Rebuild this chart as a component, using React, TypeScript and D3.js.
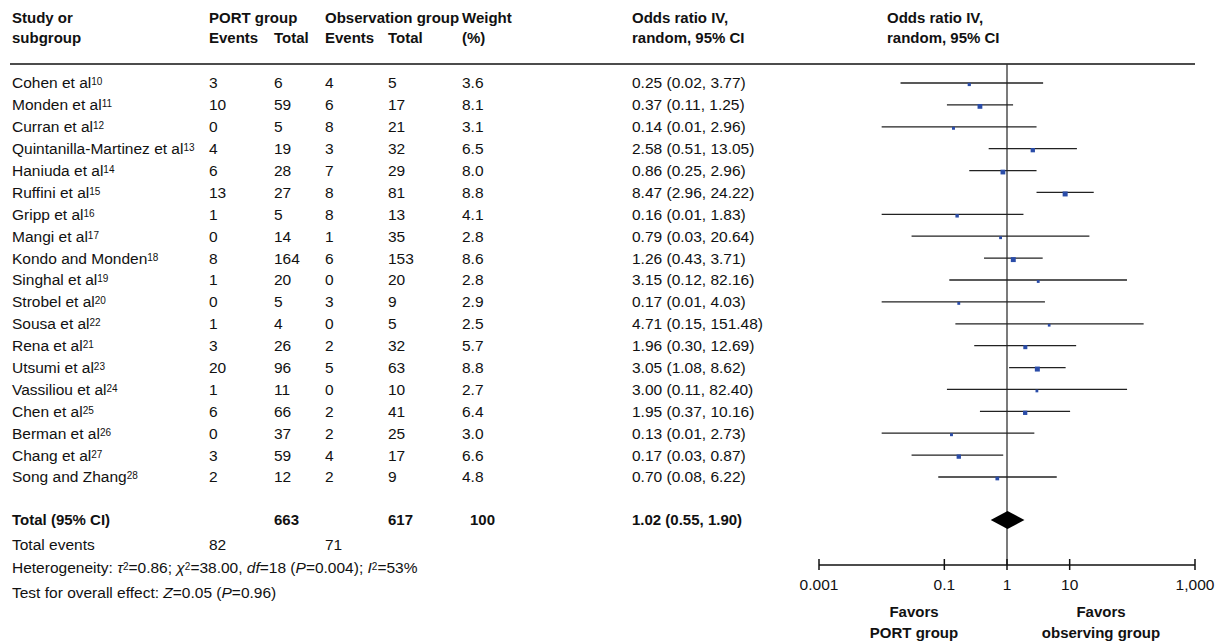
import React from 'react';
import * as d3 from 'd3';

// study rows
const studies = [
  'Cohen et al', 'Monden et al', 'Curran et al', 'Quintanilla-Martinez et al', 'Haniuda et al',
  'Ruffini et al', 'Gripp et al', 'Mangi et al', 'Kondo and Monden', 'Singhal et al',
  'Strobel et al', 'Sousa et al', 'Rena et al', 'Utsumi et al', 'Vassiliou et al',
  'Chen et al', 'Berman et al', 'Chang et al', 'Song and Zhang',
];
const refs = ['10', '11', '12', '13', '14', '15', '16', '17', '18', '19', '20', '22', '21', '23', '24', '25', '26', '27', '28'];
const portEvents = [3, 10, 0, 4, 6, 13, 1, 0, 8, 1, 0, 1, 3, 20, 1, 6, 0, 3, 2];
const portTotal = [6, 59, 5, 19, 28, 27, 5, 14, 164, 20, 5, 4, 26, 96, 11, 66, 37, 59, 12];
const obsEvents = [4, 6, 8, 3, 7, 8, 8, 1, 6, 0, 3, 0, 2, 5, 0, 2, 2, 4, 2];
const obsTotal = [5, 17, 21, 32, 29, 81, 13, 35, 153, 20, 9, 5, 32, 63, 10, 41, 25, 17, 9];
const weights = ['3.6', '8.1', '3.1', '6.5', '8.0', '8.8', '4.1', '2.8', '8.6', '2.8', '2.9', '2.5', '5.7', '8.8', '2.7', '6.4', '3.0', '6.6', '4.8'];
const oddsRatio = [0.25, 0.37, 0.14, 2.58, 0.86, 8.47, 0.16, 0.79, 1.26, 3.15, 0.17, 4.71, 1.96, 3.05, 3.00, 1.95, 0.13, 0.17, 0.70];
const ciLow = [0.02, 0.11, 0.01, 0.51, 0.25, 2.96, 0.01, 0.03, 0.43, 0.12, 0.01, 0.15, 0.30, 1.08, 0.11, 0.37, 0.01, 0.03, 0.08];
const ciHigh = [3.77, 1.25, 2.96, 13.05, 2.96, 24.22, 1.83, 20.64, 3.71, 82.16, 4.03, 151.48, 12.69, 8.62, 82.40, 10.16, 2.73, 0.87, 6.22];

const pooled = { or: 1.02, lo: 0.55, hi: 1.9 };
const axisTicks = [0.001, 0.1, 1, 10, 1000];
const tickLabels = ['0.001', '0.1', '1', '10', '1,000'];

const W = 1215;
const H = 643;
const FONT = '"Liberation Sans", Arial, sans-serif';

const fmt = (v: number) => v.toFixed(2);

const App = () => {
  const x = d3.scaleLog().domain([0.001, 1000]).range([819, 1195]);
  const y = d3.scalePoint<string>().domain(studies).range([83, 477]);
  const size = d3.scaleSqrt().domain([0, 8.8]).range([0, 5]);

  const axisY = 565;
  const headerLine = 64;
  const totalY = 520;

  const col = { study: 12, pe: 209, pt: 274, oe: 325, ot: 388, w: 462, or: 632 };

  const txt = (props: any, children: any, bold = false) => (
    <text dy="0.35em" fontFamily={FONT} fontSize={bold ? 15 : 15.5} fontWeight={bold ? 'bold' : 'normal'} fill="#111" {...props}>
      {children}
    </text>
  );

  const sup = (s: string) => (
    <tspan fontSize={10} baselineShift="35%">{s}</tspan>
  );

  const diamond = [
    [x(pooled.lo), totalY],
    [x(pooled.or), totalY - 9],
    [x(pooled.hi), totalY],
    [x(pooled.or), totalY + 9],
  ];

  return (
    <svg width={W} height={H} style={{ position: 'absolute', left: 0, top: 0, background: '#fff' }}>
      <rect width={W} height={H} fill="#fff" />

      {/* header */}
      {txt({ x: col.study, y: 18 }, 'Study or', true)}
      {txt({ x: col.study, y: 38 }, 'subgroup', true)}
      {txt({ x: col.pe, y: 18 }, 'PORT group', true)}
      {txt({ x: col.pe, y: 38 }, 'Events', true)}
      {txt({ x: col.pt, y: 38 }, 'Total', true)}
      {txt({ x: col.oe, y: 18 }, 'Observation group', true)}
      {txt({ x: col.oe, y: 38 }, 'Events', true)}
      {txt({ x: col.ot, y: 38 }, 'Total', true)}
      {txt({ x: col.w, y: 18 }, 'Weight', true)}
      {txt({ x: col.w, y: 38 }, '(%)', true)}
      {txt({ x: col.or, y: 18 }, 'Odds ratio IV,', true)}
      {txt({ x: col.or, y: 38 }, 'random, 95% CI', true)}
      {txt({ x: 887, y: 18 }, 'Odds ratio IV,', true)}
      {txt({ x: 887, y: 38 }, 'random, 95% CI', true)}
      <line x1={10} x2={1195} y1={headerLine} y2={headerLine} stroke="#111" strokeWidth={1.5} />

      {/* reference line */}
      <line x1={x(1)} x2={x(1)} y1={headerLine} y2={axisY} stroke="#333" strokeWidth={1.3} />

      {/* study rows */}
      {studies.map((s, i) => {
        const yy = y(s) as number;
        const sz = size(+weights[i]);
        return (
          <g key={s}>
            {txt({ x: col.study, y: yy }, <>{s}{sup(refs[i])}</>)}
            {txt({ x: col.pe, y: yy }, portEvents[i])}
            {txt({ x: col.pt, y: yy }, portTotal[i])}
            {txt({ x: col.oe, y: yy }, obsEvents[i])}
            {txt({ x: col.ot, y: yy }, obsTotal[i])}
            {txt({ x: col.w, y: yy }, weights[i])}
            {txt({ x: col.or, y: yy }, `${fmt(oddsRatio[i])} (${fmt(ciLow[i])}, ${fmt(ciHigh[i])})`)}
            <line x1={x(ciLow[i])} x2={x(ciHigh[i])} y1={yy} y2={yy} stroke="#222" strokeWidth={1.3} />
            <rect x={x(oddsRatio[i]) - sz / 2} y={yy + 1.5 - sz / 2} width={sz} height={sz} fill="#2a4ca8" />
          </g>
        );
      })}

      {/* totals */}
      {txt({ x: col.study, y: totalY }, 'Total (95% CI)', true)}
      {txt({ x: col.pt, y: totalY }, d3.sum(portTotal), true)}
      {txt({ x: col.ot, y: totalY }, d3.sum(obsTotal), true)}
      {txt({ x: 470, y: totalY }, '100', true)}
      {txt({ x: col.or, y: totalY }, `${fmt(pooled.or)} (${fmt(pooled.lo)}, ${fmt(pooled.hi)})`, true)}
      <polygon points={diamond.map(p => p.join(',')).join(' ')} fill="#000" />

      {txt({ x: col.study, y: 545 }, 'Total events')}
      {txt({ x: col.pe, y: 545 }, d3.sum(portEvents))}
      {txt({ x: col.oe, y: 545 }, d3.sum(obsEvents))}
      {txt({ x: col.study, y: 568 }, <>
        Heterogeneity: <tspan fontStyle="italic">τ</tspan>{sup('2')}=0.86; <tspan fontStyle="italic">χ</tspan>{sup('2')}=38.00, <tspan fontStyle="italic">df</tspan>=18 (<tspan fontStyle="italic">P</tspan>=0.004); <tspan fontStyle="italic">I</tspan>{sup('2')}=53%
      </>)}
      {txt({ x: col.study, y: 593 }, <>
        Test for overall effect: <tspan fontStyle="italic">Z</tspan>=0.05 (<tspan fontStyle="italic">P</tspan>=0.96)
      </>)}

      {/* axis */}
      <line x1={x(0.001)} x2={x(1000)} y1={axisY} y2={axisY} stroke="#111" strokeWidth={1.5} />
      {axisTicks.map((t, i) => (
        <g key={t}>
          <line x1={x(t)} x2={x(t)} y1={axisY - 6} y2={axisY + 5} stroke="#111" strokeWidth={1.5} />
          {txt({ x: x(t), y: 585, textAnchor: 'middle' }, tickLabels[i])}
        </g>
      ))}
      {txt({ x: 914, y: 612, textAnchor: 'middle' }, 'Favors', true)}
      {txt({ x: 914, y: 633, textAnchor: 'middle' }, 'PORT group', true)}
      {txt({ x: 1101, y: 612, textAnchor: 'middle' }, 'Favors', true)}
      {txt({ x: 1101, y: 633, textAnchor: 'middle' }, 'observing group', true)}
    </svg>
  );
};

export default App;
